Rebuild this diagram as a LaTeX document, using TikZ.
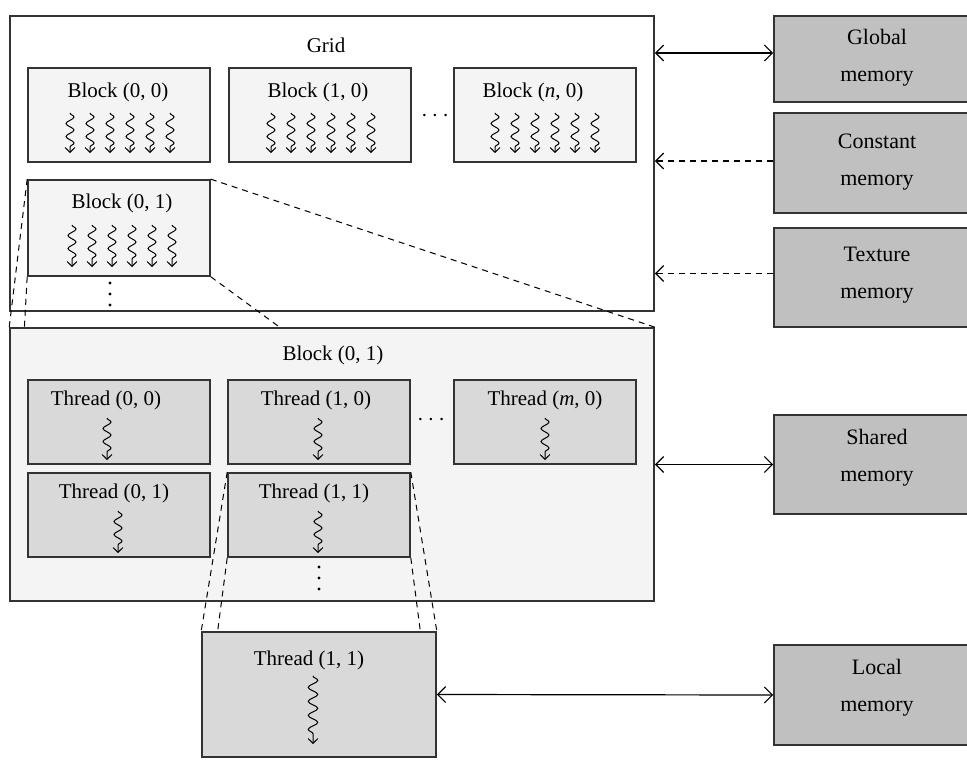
\documentclass[tikz,border=0pt]{standalone}
\usepackage{fontspec}
\setmainfont{Liberation Serif}
\usetikzlibrary{arrows.meta,decorations.pathmorphing}

\definecolor{blockfill}{HTML}{F3F4F3}
\definecolor{threadfill}{HTML}{D9D9D9}
\definecolor{memfill}{HTML}{C0C0C0}
\definecolor{edgegray}{HTML}{333333}

\tikzset{
  box/.style={draw=edgegray, line width=0.8pt, inner sep=0pt},
  blockbox/.style={box, fill=blockfill, minimum width=91pt, minimum height=47pt},
  threadbox/.style={box, fill=threadfill, minimum width=91pt, minimum height=42pt},
  membox/.style={box, fill=memfill, minimum width=103pt},
  memtext/.style={align=center, inner sep=0pt, font=\fontsize{11}{18.5}\selectfont},
  lbl/.style={inner sep=0pt, font=\fontsize{10.5}{12}\selectfont},
  squig/.style={line width=0.5pt, decorate,
    decoration={snake, amplitude=2pt, segment length=6.5pt, post length=2pt},
    -{Straight Barb[length=2.4pt,width=5pt]}},
  longsquig/.style={squig, decoration={snake, amplitude=2.4pt, segment length=7pt, post length=3pt}},
  link/.style={line width=0.6pt, {Straight Barb[length=4pt,width=8pt]}-{Straight Barb[length=4pt,width=8pt]}},
  readlink/.style={line width=0.6pt, dash pattern=on 3pt off 2.5pt, -{Straight Barb[length=4pt,width=8pt]}},
  zoomline/.style={line width=0.5pt, dash pattern=on 3pt off 2.5pt},
  vdot/.style={fill=black, radius=0.8pt}
}

\begin{document}
\begin{tikzpicture}[x=0.5pt, y=-0.5pt]

    \useasboundingbox (0,0) rectangle (967,759);

    \node[box, fill=white, minimum width=322pt, minimum height=147.5pt] (grid) at (332,163.5) {};
    \node[lbl] (gridt) at (326,45) {Grid};

    \node[blockbox] (b00) at (119,115) {};
    \node[blockbox] (b10) at (320,115) {};
    \node[blockbox] (bn0) at (545,115) {};
    \node[blockbox, minimum height=48pt] (b01) at (119,228) {};
    \node[lbl] (b00t) at (118,92) {Block (0, 0)};
    \node[lbl] (b10t) at (318,92) {Block (1, 0)};
    \node[lbl] (bn0t) at (533,92) {Block (\textit{n}, 0)};
    \node[lbl] (b01t) at (122,203) {Block (0, 1)};
    \node[font=\fontsize{12}{12}\selectfont] (bdots) at (435,116) {$\cdots$};
    \foreach \y in {283,294,305} \fill[vdot] (110,\y) circle;

    \foreach \x in {70,90,...,170} \draw[squig] (\x,113) -- (\x,153);
    \foreach \x in {271,291,...,371} \draw[squig] (\x,113) -- (\x,153);
    \foreach \x in {495,515,...,595} \draw[squig] (\x,113) -- (\x,153);
    \foreach \x in {72,92,...,172} \draw[squig] (\x,225) -- (\x,267);

    \node[box, fill=blockfill, minimum width=322pt, minimum height=136.5pt] (blk) at (332,464.5) {};
    \node[lbl] (blkt) at (333,355) {Block (0, 1)};

    \draw[zoomline] (b01.north west) -- (blk.north west);
    \draw[zoomline] (b01.north east) -- (blk.north east);
    \draw[zoomline] (b01.south west) -- (intersection of b01.south west--blk.south west and blk.north west--blk.north east);
    \draw[zoomline] (b01.south east) -- (intersection of b01.south east--blk.south east and blk.north west--blk.north east);

    \node[threadbox] (t00) at (119,422) {};
    \node[threadbox] (t10) at (319,422) {};
    \node[threadbox] (tm0) at (545,422) {};
    \node[threadbox] (t01) at (119,515) {};
    \node[threadbox] (t11) at (319,515) {};
    \node[lbl] (t00t) at (106,400) {Thread (0, 0)};
    \node[lbl] (t10t) at (316,400) {Thread (1, 0)};
    \node[lbl] (tm0t) at (545,400) {Thread (\textit{m}, 0)};
    \node[lbl] (t01t) at (114,493) {Thread (0, 1)};
    \node[lbl] (t11t) at (314,493) {Thread (1, 1)};
    \node[font=\fontsize{12}{12}\selectfont] (tdots) at (431,420) {$\cdots$};
    \foreach \y in {567,578,589} \fill[vdot] (319,\y) circle;

    \draw[squig] (107,418) -- (107,460);
    \draw[squig] (318,418) -- (318,460);
    \draw[squig] (545,418) -- (545,460);
    \draw[squig] (118,511) -- (118,553);
    \draw[squig] (318,511) -- (318,553);

    \node[box, fill=threadfill, minimum width=117pt, minimum height=62.5pt] (thr) at (319,694.5) {};
    \node[lbl] (thrt) at (309,660) {Thread (1, 1)};
    \draw[longsquig] (313,676) -- (313,744);

    \draw[zoomline] (t11.north west) -- (thr.north west);
    \draw[zoomline] (t11.north east) -- (thr.north east);
    \draw[zoomline] (t11.south west) -- (intersection of t11.south west--thr.south west and thr.north west--thr.north east);
    \draw[zoomline] (t11.south east) -- (intersection of t11.south east--thr.south east and thr.north west--thr.north east);

    \node[membox, minimum height=43pt] (global) at (877,59) {};
    \node[membox, minimum height=50pt] (constant) at (877,163) {};
    \node[membox, minimum height=49.5pt] (texture) at (877,277.5) {};
    \node[membox, minimum height=49.5pt] (shared) at (877,464.5) {};
    \node[membox, minimum height=50pt] (local) at (877,695) {};
    \node[memtext] (globalt) at ([yshift=0.4pt]global.center) {Global\\memory};
    \node[memtext] (constantt) at ([yshift=0.4pt]constant.center) {Constant\\memory};
    \node[memtext] (texturet) at ([yshift=1.2pt]texture.center) {Texture\\memory};
    \node[memtext] (sharedt) at ([yshift=3.5pt]shared.center) {Shared\\memory};
    \node[memtext] (localt) at ([yshift=3.5pt]local.center) {Local\\memory};

    \draw[link] ([yshift=3pt]global.west -| grid.east) -- ([yshift=3pt]global.west);
    \draw[readlink] ([yshift=1pt]constant.west) -- ([yshift=1pt]constant.west -| grid.east);
    \draw[readlink] ([yshift=2pt]texture.west) -- ([yshift=2pt]texture.west -| grid.east);
    \draw[link] (shared.west -| blk.east) -- (shared.west);
    \draw[link] (thr.east) -- (local.west);

  \end{tikzpicture}
\end{document}
